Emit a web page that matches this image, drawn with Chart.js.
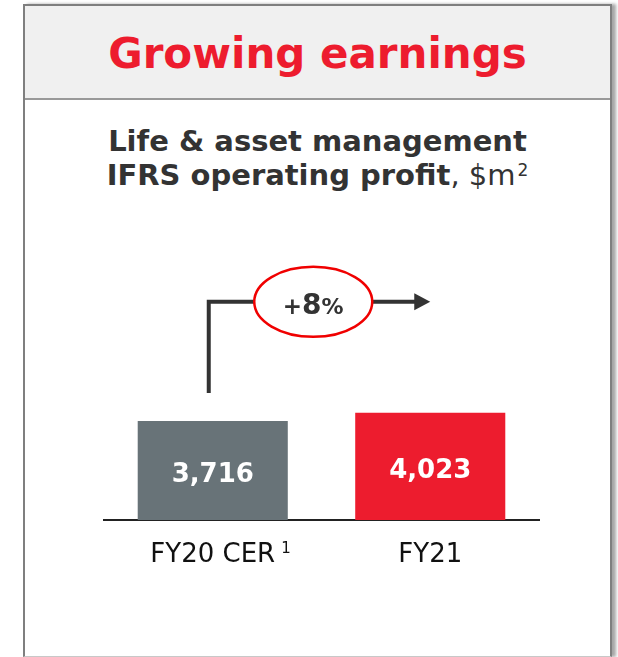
<!DOCTYPE html>
<html>
<head>
<meta charset="utf-8">
<script src="https://cdn.jsdelivr.net/npm/chart.js@4"></script>
<style>
  html, body { margin: 0; padding: 0; background: #fff; }
  body { width: 618px; height: 657px; position: relative; overflow: hidden; font-family: "DejaVu Sans", Verdana, sans-serif; }
  .box {
    position: absolute; left: 23px; top: 4px; width: 589px; height: 653px; box-sizing: border-box;
    border: 2px solid #7f7f7f; border-bottom: 1px solid #c8c8c8;
    box-shadow: 4px 0 3px rgba(0,0,0,0.35);
  }
  .header {
    position: absolute; left: 0; top: 0; right: 0; height: 92px;
    background: #f0f0f0; border-bottom: 2px solid #999;
  }
  .title {
    position: absolute; left: 23px; width: 589px; top: 33px; text-align: center;
    font-weight: bold; font-size: 42px; line-height: 42px; color: #ed1c2e;
  }
  .subtitle {
    position: absolute; left: 23px; width: 589px; top: 124px; text-align: center;
    font-weight: bold; font-size: 29px; line-height: 34px; color: #333;
  }
  .subtitle .reg { font-weight: normal; }
  .subtitle .sup { font-weight: normal; font-size: 17px; position: relative; top: -9px; margin-left: 2px; }
  #chart { position: absolute; left: 0; top: 0; }
</style>
</head>
<body>
<div class="box"><div class="header"></div></div>
<div class="title">Growing earnings</div>
<div class="subtitle">Life &amp; asset management<br>IFRS operating profit<span class="reg">, $m</span><span class="sup">2</span></div>
<canvas id="chart" width="618" height="657"></canvas>
<script>
// Werte aus der Grafik
const categories = ['FY20 CER', 'FY21'];
const footnotes = ['1', ''];
const values = [3716, 4023];
const barColors = ['#687378', '#ed1c2e'];

const FONT = '"DejaVu Sans", Verdana, sans-serif';

// Beschriftungen, Fußnote und Pfeil mit Wachstum
const annotate = {
    id: 'annotate',
    afterDatasetsDraw(chart) {
        const ctx = chart.ctx;
        const xs = chart.scales.x;
        const ys = chart.scales.y;
        const meta = chart.getDatasetMeta(0);

        ctx.save();
        // Werte in den Balken
        ctx.font = 'bold 26px ' + FONT;
        ctx.fillStyle = '#fff';
        ctx.textAlign = 'center';
        ctx.textBaseline = 'alphabetic';
        meta.data.forEach((bar, i) => {
            const mid = (bar.y + bar.base) / 2;
            ctx.fillText(values[i].toLocaleString('en-US'), bar.x, mid + 11.5);
        });

        // Fußnoten an den Achsenbeschriftungen
        categories.forEach((c, i) => {
            if (!footnotes[i]) return;
            ctx.font = '26px ' + FONT;
            const w = ctx.measureText(c).width;
            ctx.font = '15px ' + FONT;
            ctx.fillStyle = '#111';
            ctx.textAlign = 'left';
            ctx.fillText(footnotes[i], xs.getPixelForValue(i) + w / 2 + 6, 553);
        });

        // Pfeil
        const x0 = xs.getPixelForValue(0) - 4;
        const x1 = xs.getPixelForValue(1);
        const yTop = ys.getPixelForValue(8180);
        const yStart = meta.data[0].y - 28;
        ctx.strokeStyle = '#333';
        ctx.fillStyle = '#333';
        ctx.lineWidth = 4;
        ctx.lineJoin = 'miter';
        ctx.beginPath();
        ctx.moveTo(x0, yStart);
        ctx.lineTo(x0, yTop);
        ctx.lineTo(x1 - 15, yTop);
        ctx.stroke();
        ctx.beginPath();
        ctx.moveTo(x1 - 16, yTop - 8.5);
        ctx.lineTo(x1, yTop);
        ctx.lineTo(x1 - 16, yTop + 8.5);
        ctx.closePath();
        ctx.fill();

        // Ellipse mit Prozent
        const cx = x0 + 104.5;
        ctx.beginPath();
        ctx.ellipse(cx, yTop, 59, 35, 0, 0, Math.PI * 2);
        ctx.fillStyle = '#fff';
        ctx.fill();
        ctx.strokeStyle = '#f00000';
        ctx.lineWidth = 2.5;
        ctx.stroke();

        const pct = Math.round((values[1] / values[0] - 1) * 100);
        const parts = [['+', 'bold 23px '], [String(pct), 'bold 28px '], ['%', 'bold 22px ']];
        let total = 0;
        parts.forEach(p => { ctx.font = p[1] + FONT; total += ctx.measureText(p[0]).width; });
        let px = cx - total / 2;
        ctx.fillStyle = '#333';
        ctx.textAlign = 'left';
        parts.forEach(p => {
            ctx.font = p[1] + FONT;
            ctx.fillText(p[0], px, 314);
            px += ctx.measureText(p[0]).width;
        });
        ctx.restore();
    }
};

new Chart(document.getElementById('chart').getContext('2d'), {
    type: 'bar',
    data: {
        labels: categories,
        datasets: [{
            data: values,
            backgroundColor: barColors,
            borderWidth: 0,
            categoryPercentage: 1,
            barPercentage: 0.69
        }]
    },
    options: {
        responsive: false,
        animation: false,
        events: [],
        layout: { padding: { left: 104, right: 79, top: 200, bottom: 77 } },
        plugins: {
            legend: { display: false },
            tooltip: { enabled: false }
        },
        scales: {
            x: {
                grid: { display: false },
                border: { display: true, color: '#222', width: 2 },
                ticks: {
                    color: '#111',
                    padding: 12,
                    font: { family: FONT, size: 26 }
                },
                afterFit: function(scale) { scale.height = 60; }
            },
            y: {
                display: false,
                min: 0,
                max: 12000
            }
        }
    },
    plugins: [annotate]
});
</script>
</body>
</html>
